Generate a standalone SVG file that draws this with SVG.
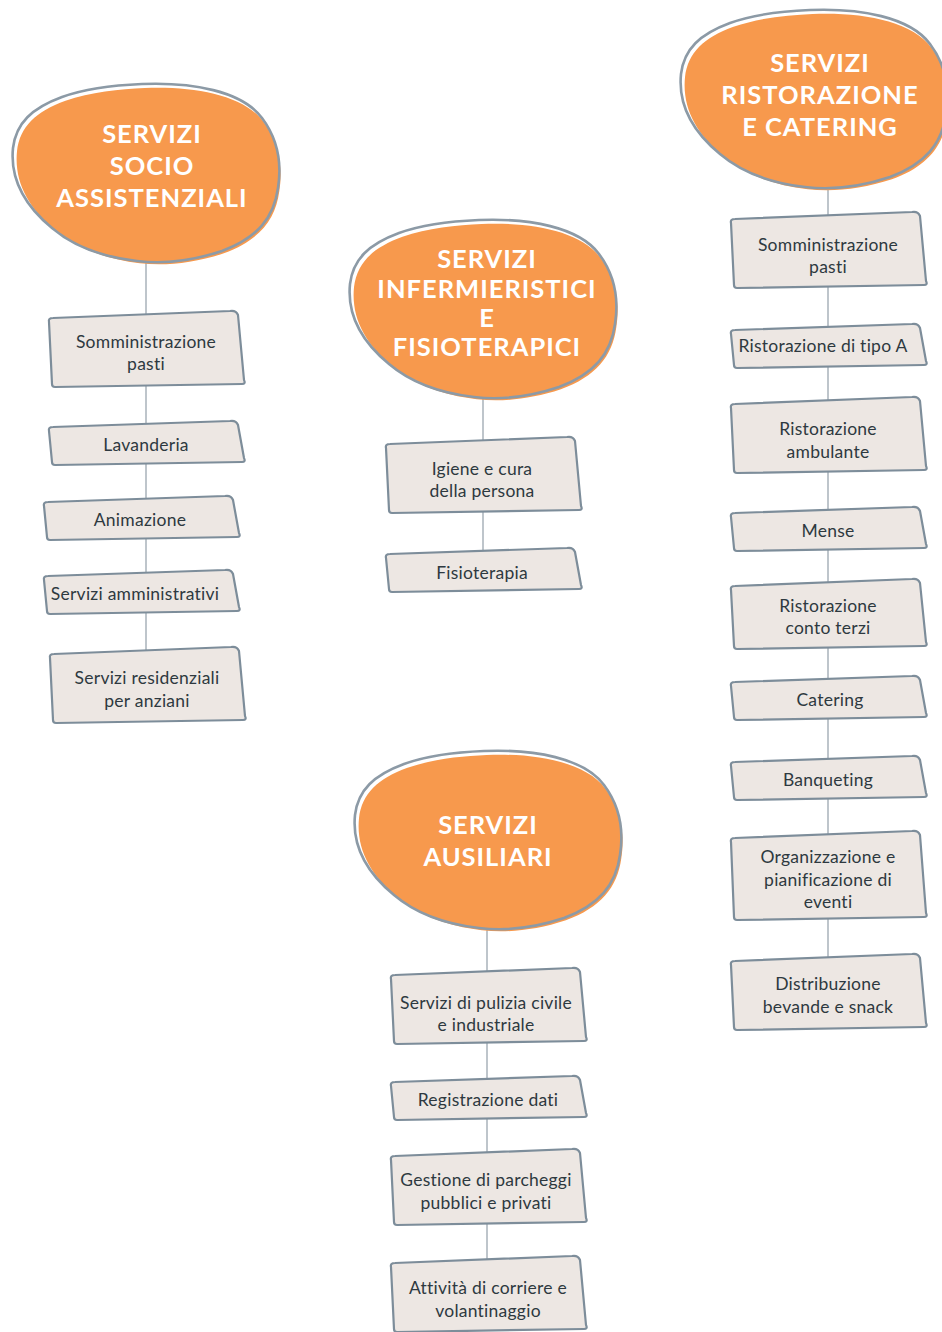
<svg xmlns="http://www.w3.org/2000/svg" xmlns:xlink="http://www.w3.org/1999/xlink" width="942" height="1332" viewBox="0 0 942 1332">
  <style>
    .blob-fill { fill: #f7994d; }
    .blob-line { fill: none; stroke: #8c9aa6; stroke-width: 2.6; }
    .box { fill: #ede7e3; stroke: #7d8d9a; stroke-width: 2.2; stroke-linejoin: round; }
    .wire { stroke: #aeb7be; stroke-width: 1.6; fill: none; }
    .head { font-family: Lato, "Noto Sans", sans-serif; font-weight: 700; font-size: 25.5px; fill: #ffffff; text-anchor: middle; letter-spacing: 1px; }
    .lbl { font-family: Lato, "Noto Sans", sans-serif; font-size: 17.5px; fill: #2e3940; text-anchor: middle; letter-spacing: 0.25px; }
  </style>
  <defs>
    <!-- pebble outline shared by all category headers -->
    <path id="pebble" d="M130,1 C180,-1 230,8 250,35 C265,55 270,80 266,105 C262,135 245,155 210,168 C180,178 150,181 125,178 C90,174 60,162 40,145 C12,122 -2,95 1,65 C4,40 20,25 50,14 C75,5 105,2 130,1 Z"/>
    <!-- hand-drawn item boxes, four heights -->
    <path id="box-s" d="M1,10 Q0,6 5,6 L182,0 Q188,-1 190,4 L196,37 Q198,41 194,41 L7,44 Q4,44 4,41 Z"/>
    <path id="box-m" d="M1,11 Q0,7 5,7 L182,0 Q188,-1 190,4 L196,69 Q198,73 194,73 L7,76 Q4,76 4,73 Z"/>
    <path id="box-n" d="M1,11 Q0,7 5,7 L182,0 Q188,-1 190,4 L196,63 Q198,67 194,67 L7,70 Q4,70 4,67 Z"/>
    <path id="box-l" d="M1,11 Q0,7 5,7 L182,0 Q188,-1 190,4 L196,82 Q198,86 194,86 L7,89 Q4,89 4,86 Z"/>
  </defs>

  <rect width="942" height="1332" fill="#ffffff"/>

  <!-- connectors -->
  <g id="connectors">
    <line class="wire" x1="146" y1="262" x2="146" y2="652"/>
    <line class="wire" x1="483" y1="397" x2="483" y2="552"/>
    <line class="wire" x1="487" y1="927" x2="487" y2="1262"/>
    <line class="wire" x1="828" y1="187" x2="828" y2="960"/>
  </g>

  <!-- category headers -->
  <g id="cat-socio" transform="translate(12,83)">
    <use href="#pebble" class="blob-fill" transform="translate(4,4) scale(0.99)"/>
    <use href="#pebble" class="blob-line"/>
    <text class="head" x="140" y="60">SERVIZI</text>
    <text class="head" x="140" y="92">SOCIO</text>
    <text class="head" x="140" y="124">ASSISTENZIALI</text>
  </g>
  <g id="cat-infermieristici" transform="translate(349,219)">
    <use href="#pebble" class="blob-fill" transform="translate(4,4) scale(0.99)"/>
    <use href="#pebble" class="blob-line"/>
    <text class="head" x="138" y="49">SERVIZI</text>
    <text class="head" x="138" y="79">INFERMIERISTICI</text>
    <text class="head" x="138" y="108">E</text>
    <text class="head" x="138" y="137">FISIOTERAPICI</text>
  </g>
  <g id="cat-ausiliari" transform="translate(354,750)">
    <use href="#pebble" class="blob-fill" transform="translate(4,4) scale(0.99)"/>
    <use href="#pebble" class="blob-line"/>
    <text class="head" x="134" y="84">SERVIZI</text>
    <text class="head" x="134" y="116">AUSILIARI</text>
  </g>
  <g id="cat-ristorazione" transform="translate(680,9)">
    <use href="#pebble" class="blob-fill" transform="translate(4,4) scale(0.99)"/>
    <use href="#pebble" class="blob-line"/>
    <text class="head" x="140" y="63">SERVIZI</text>
    <text class="head" x="140" y="95">RISTORAZIONE</text>
    <text class="head" x="140" y="127">E CATERING</text>
  </g>

  <!-- socio assistenziali items -->
  <g id="sa-pasti">
    <use href="#box-m" class="box" x="48" y="311"/>
    <text class="lbl" x="146" y="348">Somministrazione</text>
    <text class="lbl" x="146" y="370">pasti</text>
  </g>
  <g id="sa-lavanderia">
    <use href="#box-s" class="box" x="48" y="421"/>
    <text class="lbl" x="146" y="451">Lavanderia</text>
  </g>
  <g id="sa-animazione">
    <use href="#box-s" class="box" x="43" y="496"/>
    <text class="lbl" x="140" y="526">Animazione</text>
  </g>
  <g id="sa-amministrativi">
    <use href="#box-s" class="box" x="43" y="570"/>
    <text class="lbl" x="135" y="600">Servizi amministrativi</text>
  </g>
  <g id="sa-residenziali">
    <use href="#box-m" class="box" x="49" y="647"/>
    <text class="lbl" x="147" y="684">Servizi residenziali</text>
    <text class="lbl" x="147" y="707">per anziani</text>
  </g>

  <!-- infermieristici items -->
  <g id="if-igiene">
    <use href="#box-m" class="box" x="385" y="437"/>
    <text class="lbl" x="482" y="475">Igiene e cura</text>
    <text class="lbl" x="482" y="497">della persona</text>
  </g>
  <g id="if-fisioterapia">
    <use href="#box-s" class="box" x="385" y="548"/>
    <text class="lbl" x="482" y="579">Fisioterapia</text>
  </g>

  <!-- ausiliari items -->
  <g id="au-pulizia">
    <use href="#box-m" class="box" x="390" y="968"/>
    <text class="lbl" x="486" y="1009">Servizi di pulizia civile</text>
    <text class="lbl" x="486" y="1031">e industriale</text>
  </g>
  <g id="au-registrazione">
    <use href="#box-s" class="box" x="390" y="1076"/>
    <text class="lbl" x="488" y="1106">Registrazione dati</text>
  </g>
  <g id="au-parcheggi">
    <use href="#box-m" class="box" x="390" y="1149"/>
    <text class="lbl" x="486" y="1186">Gestione di parcheggi</text>
    <text class="lbl" x="486" y="1209">pubblici e privati</text>
  </g>
  <g id="au-corriere">
    <use href="#box-m" class="box" x="390" y="1256"/>
    <text class="lbl" x="488" y="1294">Attività di corriere e</text>
    <text class="lbl" x="488" y="1317">volantinaggio</text>
  </g>

  <!-- ristorazione items -->
  <g id="rc-pasti">
    <use href="#box-m" class="box" x="730" y="212"/>
    <text class="lbl" x="828" y="251">Somministrazione</text>
    <text class="lbl" x="828" y="273">pasti</text>
  </g>
  <g id="rc-tipo-a">
    <use href="#box-s" class="box" x="730" y="324"/>
    <text class="lbl" x="823" y="352">Ristorazione di tipo A</text>
  </g>
  <g id="rc-ambulante">
    <use href="#box-m" class="box" x="730" y="397"/>
    <text class="lbl" x="828" y="435">Ristorazione</text>
    <text class="lbl" x="828" y="458">ambulante</text>
  </g>
  <g id="rc-mense">
    <use href="#box-s" class="box" x="730" y="507"/>
    <text class="lbl" x="828" y="537">Mense</text>
  </g>
  <g id="rc-conto-terzi">
    <use href="#box-n" class="box" x="730" y="579"/>
    <text class="lbl" x="828" y="612">Ristorazione</text>
    <text class="lbl" x="828" y="634">conto terzi</text>
  </g>
  <g id="rc-catering">
    <use href="#box-s" class="box" x="730" y="676"/>
    <text class="lbl" x="830" y="706">Catering</text>
  </g>
  <g id="rc-banqueting">
    <use href="#box-s" class="box" x="730" y="756"/>
    <text class="lbl" x="828" y="786">Banqueting</text>
  </g>
  <g id="rc-eventi">
    <use href="#box-l" class="box" x="730" y="831"/>
    <text class="lbl" x="828" y="863">Organizzazione e</text>
    <text class="lbl" x="828" y="886">pianificazione di</text>
    <text class="lbl" x="828" y="908">eventi</text>
  </g>
  <g id="rc-bevande">
    <use href="#box-m" class="box" x="730" y="954"/>
    <text class="lbl" x="828" y="990">Distribuzione</text>
    <text class="lbl" x="828" y="1013">bevande e snack</text>
  </g>
</svg>
